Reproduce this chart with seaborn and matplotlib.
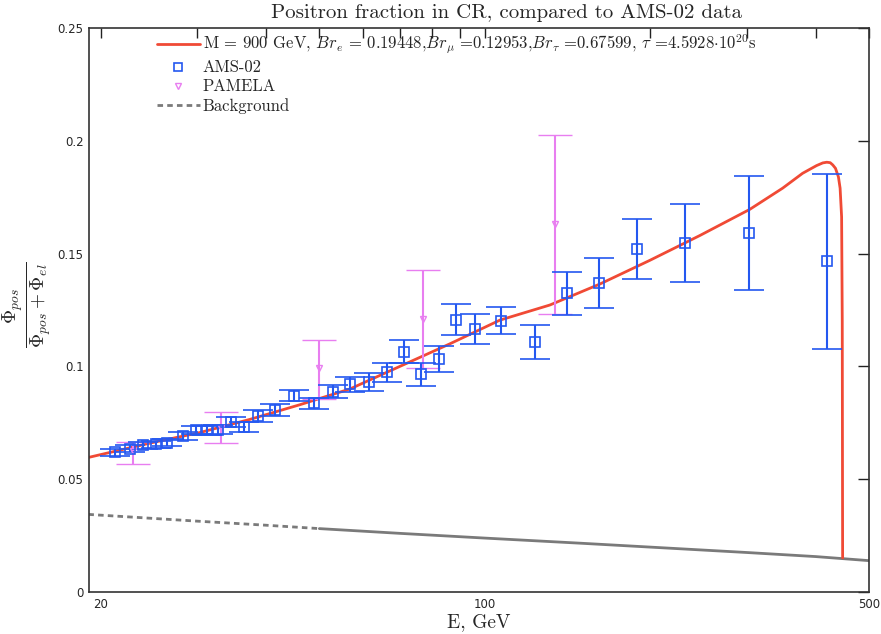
import numpy as np
import pandas as pd
import matplotlib
matplotlib.use("Agg")
import matplotlib.pyplot as plt
import seaborn as sns
from matplotlib.ticker import FixedLocator, FixedFormatter, NullLocator
from matplotlib.lines import Line2D

# ---------------- data ----------------
ams_E = [21.2, 22.6, 23.9, 25.2, 26.4, 28.2, 29.8, 31.2, 32.7, 34.5, 36.5, 38.7,
         41.5, 44.9, 48.9, 52.9, 56.9, 61.6, 66.3, 71.2, 76.5, 82.5, 88.6, 95.9,
         106.9, 123.3, 140.9, 161.2, 189.0, 231.1, 302.0, 420.0]
ams_frac = [0.0620, 0.0635, 0.0650, 0.0655, 0.0662, 0.0690, 0.0718, 0.0718, 0.0720,
            0.0752, 0.0731, 0.0780, 0.0807, 0.0870, 0.0836, 0.0887, 0.0921, 0.0932,
            0.0974, 0.1066, 0.0965, 0.1034, 0.1207, 0.1167, 0.1203, 0.1110, 0.1325,
            0.1370, 0.1520, 0.1547, 0.1590, 0.1467]
ams_err = [0.0015, 0.0015, 0.0016, 0.0016, 0.0017, 0.0018, 0.0019, 0.0020, 0.0021,
           0.0022, 0.0023, 0.0025, 0.0026, 0.0024, 0.0025, 0.0029, 0.0033, 0.0040,
           0.0042, 0.0050, 0.0050, 0.0058, 0.0070, 0.0067, 0.0060, 0.0075, 0.0095,
           0.0110, 0.0133, 0.0173, 0.0253, 0.0388]

pam_E = [22.9, 33.1, 50.0, 77.2, 134.2]
pam_frac = [0.0625, 0.0728, 0.0991, 0.1209, 0.1631]
pam_err_up = [0.0041, 0.0071, 0.0125, 0.0217, 0.0396]
pam_err_lo = [0.0058, 0.0069, 0.0134, 0.0217, 0.0400]

model_E = [19.05, 24.6, 30.33, 37.36, 46.07, 56.84, 70.06, 86.38, 106.5, 131.3,
           161.9, 199.6, 246.1, 303.4, 348.2, 378.6, 401.3, 412.0, 419.0, 425.0,
           429.6, 434.5, 439.9, 443.0, 445.8, 447.0, 447.7]
model_frac = [0.0597, 0.0660, 0.0707, 0.0765, 0.0830, 0.0900, 0.1000, 0.1100,
              0.1205, 0.1272, 0.1365, 0.1470, 0.1580, 0.1696, 0.1790, 0.1856,
              0.1890, 0.1902, 0.1905, 0.1903, 0.1893, 0.1878, 0.1840, 0.1790,
              0.1663, 0.1200, 0.0151]

bg_E = [19.0, 25.0, 30.0, 40.0, 50.0, 70.0, 100.0, 150.0, 200.0, 300.0, 400.0, 500.0]
bg_frac = [0.0344, 0.0326, 0.0314, 0.0296, 0.0281, 0.0260, 0.0239, 0.0216,
           0.0199, 0.0175, 0.0157, 0.0139]

xtick_vals = [20, 30, 40, 50, 60, 70, 80, 90, 100, 200, 300, 400, 500]
xtick_labels = ["20", "", "", "", "", "", "", "", "100", "", "", "", "500"]
ytick_vals = [0, 0.05, 0.1, 0.15, 0.2, 0.25]
ytick_labels = ["0", "0.05", "0.1", "0.15", "0.2", "0.25"]

title = "Positron fraction in CR, compared to AMS-02 data"
model_label = (r"M = 900 GeV, $Br_e$ = 0.19448,$Br_\mu$ =0.12953,"
               r"$Br_\tau$ =0.67599, $\tau$ =4.5928$\cdot$10$^{20}$s")

# ---------------- style ----------------
sns.set_theme(style="white")
plt.rcParams["font.family"] = ["cmr10", "DejaVu Serif"]
plt.rcParams["mathtext.fontset"] = "cm"
plt.rcParams["axes.unicode_minus"] = False
plt.rcParams["axes.formatter.use_mathtext"] = True

red = "#f04a35"
blue = "#2458f0"
mag = "#e87ef0"
gray = "#7a7a7a"

fig = plt.figure(figsize=(8.81, 6.34), dpi=100)
ax = fig.add_axes([89 / 881, 1 - 592 / 634, (869 - 89) / 881, (592 - 28) / 634])

bg_df = pd.DataFrame({"E": bg_E, "frac": bg_frac})
bg_left = bg_df[bg_df.E <= 50]
bg_right = bg_df[bg_df.E >= 50]
sns.lineplot(data=bg_left, x="E", y="frac", ax=ax, color=gray, lw=2.0,
             linestyle=(0, (2.0, 1.5)), estimator=None, sort=False, label="_nolegend_")
sns.lineplot(data=bg_right, x="E", y="frac", ax=ax, color=gray, lw=2.0,
             estimator=None, sort=False, label="_nolegend_")

model_df = pd.DataFrame({"E": model_E, "frac": model_frac})
sns.lineplot(data=model_df, x="E", y="frac", ax=ax, color=red, lw=2.0,
             estimator=None, sort=False, label="_nolegend_")

ax.errorbar(pam_E, pam_frac, yerr=[pam_err_lo, pam_err_up], fmt="v", ms=5,
            mfc="none", mec=mag, ecolor=mag, elinewidth=1.5, capsize=12,
            capthick=1.5, mew=1.0)
ax.errorbar(ams_E, ams_frac, yerr=ams_err, fmt="s", ms=6.5, mfc="none",
            mec=blue, ecolor=blue, elinewidth=1.5, capsize=11, capthick=1.5,
            mew=1.2)

ax.set_xscale("log")
ax.set_xlim(19.05, 500)
ax.set_ylim(0, 0.25)
ax.xaxis.set_major_locator(FixedLocator(xtick_vals))
ax.xaxis.set_major_formatter(FixedFormatter(xtick_labels))
ax.xaxis.set_minor_locator(NullLocator())
ax.yaxis.set_major_locator(FixedLocator(ytick_vals))
ax.yaxis.set_major_formatter(FixedFormatter(ytick_labels))
ax.tick_params(axis="both", which="major", direction="in", length=7, width=1.0,
               top=True, right=True, color="#222222", pad=4)
ax.tick_params(axis="y", length=8)
for lab in ax.get_xticklabels() + ax.get_yticklabels():
    lab.set_family("DejaVu Sans")
    lab.set_fontsize(8.5)
for sp in ax.spines.values():
    sp.set_color("#333333")
    sp.set_linewidth(1.2)

ax.set_xlabel("E, GeV", fontsize=14, labelpad=2)
ax.set_ylabel(r"$\frac{\Phi_{pos}}{\Phi_{pos}+\Phi_{el}}$", fontsize=20)
ax.yaxis.set_label_coords(-0.045, 0.51)
fig.text(506 / 881, 1 - 13 / 634, title, ha="center", va="center", fontsize=15)

handles = [
    Line2D([], [], color=red, lw=2.0),
    Line2D([], [], marker="s", ls="none", ms=6, mfc="none", mec=blue, mew=1.2),
    Line2D([], [], marker="v", ls="none", ms=5, mfc="none", mec=mag, mew=1.0),
    Line2D([], [], color=gray, lw=2.0, ls=(0, (2.0, 1.5))),
]
labels = [model_label, "AMS-02", "PAMELA", "Background"]
leg = ax.legend(handles, labels, loc="upper left", bbox_to_anchor=(0.072, 1.012),
                frameon=False, fontsize=12, handlelength=2.6, handletextpad=0.15,
                labelspacing=0.22, borderaxespad=0.3)

fig.savefig("out.png", dpi=100)
